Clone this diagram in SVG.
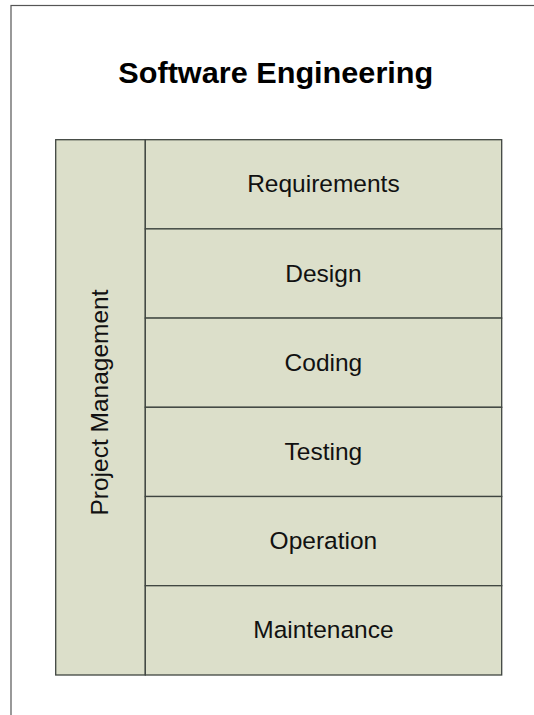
<svg xmlns="http://www.w3.org/2000/svg" width="534" height="715" viewBox="0 0 534 715">
<style>
.cell{fill:#DCDFCA;stroke:#3f4540;stroke-width:1.3}
.lbl{font-family:"Liberation Sans",Arial,sans-serif;font-size:24.5px;fill:#111;text-anchor:middle}
.title{font-family:"Liberation Sans",Arial,sans-serif;font-size:29px;font-weight:bold;fill:#000;text-anchor:middle}
</style>
<rect x="0" y="0" width="534" height="715" fill="#fff"/>
<rect x="11" y="5.5" width="600" height="800" fill="none" stroke="#555" stroke-width="1.2"/>
<text class="title" x="275.8" y="83.3" textLength="315" lengthAdjust="spacingAndGlyphs">Software Engineering</text>
<g id="project-management">
<rect class="cell" x="55.7" y="139.7" width="89.6" height="535.3"/>
<text class="lbl" transform="translate(108.3,402.5) rotate(-90)">Project Management</text>
</g>
<g id="requirements"><rect class="cell" x="145.3" y="139.7" width="356.4" height="89.2"/><text class="lbl" x="323.4" y="192.3">Requirements</text></g>
<g id="design"><rect class="cell" x="145.3" y="228.9" width="356.4" height="89.2"/><text class="lbl" x="323.4" y="281.5">Design</text></g>
<g id="coding"><rect class="cell" x="145.3" y="318.1" width="356.4" height="89.2"/><text class="lbl" x="323.4" y="370.7">Coding</text></g>
<g id="testing"><rect class="cell" x="145.3" y="407.3" width="356.4" height="89.2"/><text class="lbl" x="323.4" y="459.9">Testing</text></g>
<g id="operation"><rect class="cell" x="145.3" y="496.5" width="356.4" height="89.2"/><text class="lbl" x="323.4" y="549.1">Operation</text></g>
<g id="maintenance"><rect class="cell" x="145.3" y="585.7" width="356.4" height="89.3"/><text class="lbl" x="323.4" y="638.3">Maintenance</text></g>
<g id="connectors"></g>
</svg>
